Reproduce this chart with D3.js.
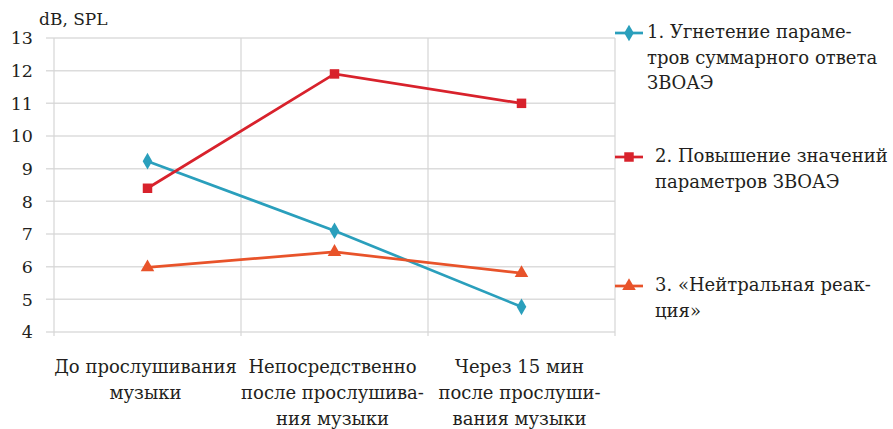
<!DOCTYPE html>
<html>
<head>
<meta charset="utf-8">
<script src="https://cdn.jsdelivr.net/npm/d3@7"></script>
<style>
  body { margin: 0; background: #fff; }
  text { font-family: "DejaVu Serif", serif; fill: #231f20; }
</style>
</head>
<body>
<div id="chart"></div>
<script>
// categories (x axis), split in lines as printed
const categories = ["before", "right after", "after 15 min"];
const categoryLines = [
    ["До прослушивания", "музыки"],
    ["Непосредственно", "после прослушива-", "ния музыки"],
    ["Через 15 мин", "после прослуши-", "вания музыки"]
];

// series values
const suppression = [9.23, 7.1, 4.77];
const increase = [8.4, 11.9, 11.0];
const neutral = [5.98, 6.45, 5.8];

const seriesNames = [
    ["1. Угнетение параме-", "тров суммарного ответа", "ЗВОАЭ"],
    ["2. Повышение значений", "параметров ЗВОАЭ"],
    ["3. «Нейтральная реак-", "ция»"]
];

const yTicks = [4, 5, 6, 7, 8, 9, 10, 11, 12, 13];
const yLabel = "dB, SPL";

const width = 893, height = 429;
const margin = {top: 38, right: 278, bottom: 97, left: 54};

const series = [
    {values: suppression, color: "#2a9fbc", symbol: d3.symbolDiamond, size: 80, name: seriesNames[0], legendY: 33, textX: 647},
    {values: increase, color: "#d8222c", symbol: d3.symbolSquare, size: 90, name: seriesNames[1], legendY: 157, textX: 655},
    {values: neutral, color: "#e8532a", symbol: d3.symbolTriangle, size: 80, name: seriesNames[2], legendY: 286, textX: 655}
];

const svg = d3.select("#chart").append("svg")
    .attr("width", width)
    .attr("height", height);

const x = d3.scaleBand()
    .domain(categories)
    .range([margin.left, width - margin.right]);

const y = d3.scaleLinear()
    .domain([4, 13])
    .range([height - margin.bottom, margin.top]);

// horizontal gridlines
svg.append("g")
    .selectAll("line")
    .data(yTicks)
    .join("line")
    .attr("x1", margin.left - 8)
    .attr("x2", width - margin.right)
    .attr("y1", d => y(d))
    .attr("y2", d => y(d))
    .attr("stroke", "#dcdcdc")
    .attr("stroke-width", 1.5);

// vertical category separators
const bounds = categories.map(c => x(c)).concat([x.range()[1]]);
svg.append("g")
    .selectAll("line")
    .data(bounds)
    .join("line")
    .attr("x1", d => d)
    .attr("x2", d => d)
    .attr("y1", y(13))
    .attr("y2", y(4) + 4)
    .attr("stroke", "#d6d6d6")
    .attr("stroke-width", 1.2);

// y tick labels
svg.append("g")
    .selectAll("text")
    .data(yTicks)
    .join("text")
    .attr("x", 33)
    .attr("y", d => y(d))
    .attr("dy", "0.36em")
    .attr("text-anchor", "end")
    .style("font-size", "17.5px")
    .text(d => d);

svg.append("text")
    .attr("x", 39)
    .attr("y", 25)
    .style("font-size", "17px")
    .text(yLabel);

// category labels
const catG = svg.append("g")
    .selectAll("text")
    .data(categories)
    .join("text")
    .attr("text-anchor", "middle")
    .style("font-size", "18px");

catG.selectAll("tspan")
    .data((d, i) => categoryLines[i].map(t => ({t, c: d})))
    .join("tspan")
    .attr("x", d => x(d.c) + x.bandwidth() / 2 - 2)
    .attr("y", (d, i) => 373 + i * 26)
    .text(d => d.t);

// lines + markers
const line = d3.line()
    .x((d, i) => x(categories[i]) + x.bandwidth() / 2)
    .y(d => y(d));

series.forEach(s => {
    svg.append("path")
        .datum(s.values)
        .attr("d", line)
        .attr("fill", "none")
        .attr("stroke", s.color)
        .attr("stroke-width", 2.7);

    svg.append("g")
        .selectAll("path")
        .data(s.values)
        .join("path")
        .attr("d", d3.symbol().type(s.symbol).size(s.size))
        .attr("transform", (d, i) => `translate(${x(categories[i]) + x.bandwidth() / 2}, ${y(d)})`)
        .attr("fill", s.color);

    // legend
    const lg = svg.append("g");
    lg.append("line")
        .attr("x1", 615).attr("x2", 643)
        .attr("y1", s.legendY).attr("y2", s.legendY)
        .attr("stroke", s.color)
        .attr("stroke-width", 2.7);
    lg.append("path")
        .attr("d", d3.symbol().type(s.symbol).size(s.size))
        .attr("transform", `translate(629, ${s.legendY})`)
        .attr("fill", s.color);
    lg.append("text")
        .style("font-size", "18px")
        .selectAll("tspan")
        .data(s.name)
        .join("tspan")
        .attr("x", s.textX)
        .attr("y", (d, i) => s.legendY + 5 + i * 25.5)
        .text(d => d);
});
</script>
</body>
</html>
